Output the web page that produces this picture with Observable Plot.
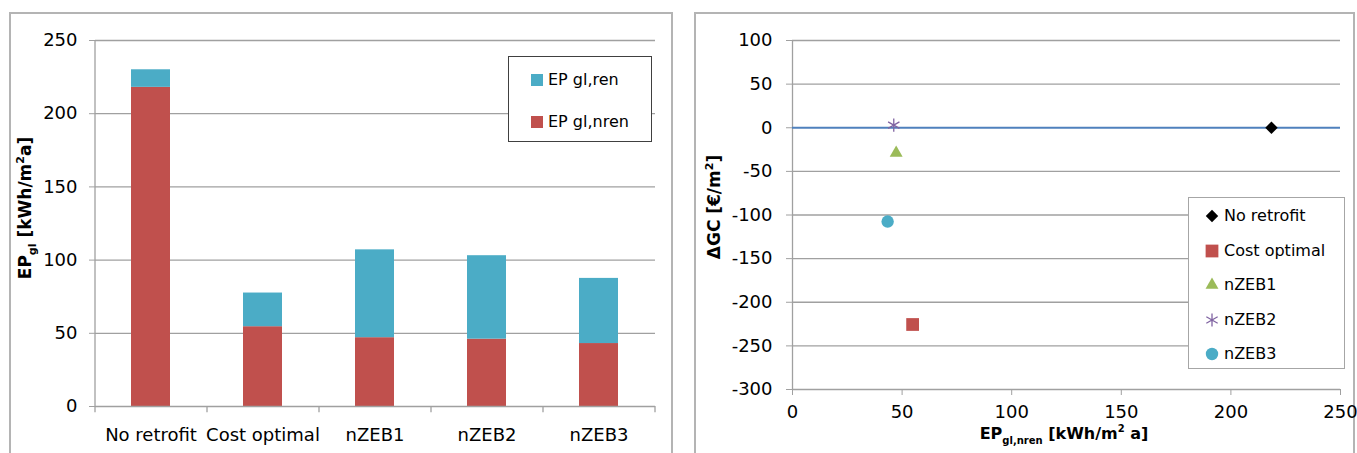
<!DOCTYPE html>
<html><head><meta charset="utf-8">
<script src="https://cdn.jsdelivr.net/npm/d3@7"></script>
<script src="https://cdn.jsdelivr.net/npm/@observablehq/plot@0.6"></script>
<style>
body{margin:0;background:#fff;}
#wrap{position:relative;width:1357px;height:453px;overflow:hidden;font-family:"DejaVu Sans",sans-serif;background:#fff;}
.panel{position:absolute;border:2px solid #b4b4b4;box-sizing:border-box;}
.abs{position:absolute;}
.legend{position:absolute;background:#fff;box-sizing:border-box;}
.row{position:absolute;left:0;right:0;height:22px;line-height:22px;font-size:16px;color:#000;white-space:nowrap;}
</style></head><body><div id="wrap"></div>
<script>
// ---------- data: left chart (stacked bars) ----------
const categories = ["No retrofit", "Cost optimal", "nZEB1", "nZEB2", "nZEB3"];
const epGlNren = [218, 54.5, 47, 46, 43];
const epGlRen = [12, 23, 60, 57, 44.5];
const barSeries = ["EP gl,ren", "EP gl,nren"];
const leftYTicks = [0, 50, 100, 150, 200, 250];

// ---------- data: right chart (scatter) ----------
const scenarios = ["No retrofit", "Cost optimal", "nZEB1", "nZEB2", "nZEB3"];
const scatterEpNren = [218.5, 54.8, 47.3, 46.2, 43.4];
const scatterDeltaGC = [0, -225.5, -29, 3, -107.5];
const rightXTicks = [0, 50, 100, 150, 200, 250];
const rightYTicks = [-300, -250, -200, -150, -100, -50, 0, 50, 100];

// ---------- styles ----------
const FONT = "DejaVu Sans, sans-serif";
const GRID = "#a0a0a0";
const barColors = ["#4bacc6", "#c0504d"];
const scenarioColors = ["#000000", "#c0504d", "#9bbb59", "#8064a2", "#4bacc6"];
const scenarioSymbols = ["diamond2", "square", "triangle", "asterisk", "circle"];
const symbolR = {"diamond2": 5.6, "square": 7.2, "triangle": 4.8, "asterisk": 6.2, "circle": 6.2};
const fmt = d => String(d);

const wrap = document.getElementById("wrap");
function add(el){ wrap.appendChild(el); return el; }
function div(cls, css){ const d = document.createElement("div"); d.className = cls; Object.assign(d.style, css); return d; }

// panels
add(div("panel", {left:"9px", top:"12px", width:"664px", height:"470px"}));
add(div("panel", {left:"694px", top:"12px", width:"661px", height:"470px"}));

// ---------- left chart ----------
const barData = [];
categories.forEach((c, i) => {
  barData.push({cat: c, series: "EP gl,nren", v: epGlNren[i]});
  barData.push({cat: c, series: "EP gl,ren", v: epGlRen[i]});
});
const step = (655 - 95) / categories.length;
const left = Plot.plot({
  width: 680, height: 453,
  marginLeft: 95, marginRight: 25, marginTop: 40, marginBottom: 47,
  style: {fontFamily: FONT, fontSize: "18px", color: "#000", background: "transparent", overflow: "visible"},
  x: {domain: categories, paddingInner: 0.65, paddingOuter: 0.325, label: null},
  y: {domain: [0, 250], label: null},
  color: {domain: barSeries, range: barColors},
  marks: [
    Plot.gridY(leftYTicks.filter(d => d > 0), {stroke: GRID, strokeOpacity: 1, strokeWidth: 1.3}),
    Plot.barY(barData, {x: "cat", y: "v", fill: "series"}),
    Plot.ruleY([0], {stroke: GRID, strokeWidth: 1.3}),
    Plot.ruleX([categories[0]], {x: d => d, dx: -step / 2, y1: -4.2, y2: 250, stroke: GRID, strokeWidth: 1.3}),
    Plot.ruleX(categories.slice(1), {x: d => d, dx: -step / 2, y1: -4.2, y2: 0, stroke: GRID, strokeWidth: 1.3}),
    Plot.ruleX([categories[categories.length - 1]], {x: d => d, dx: step / 2, y1: -4.2, y2: 0, stroke: GRID, strokeWidth: 1.3}),
    Plot.axisY({ticks: leftYTicks, tickFormat: fmt, tickSize: 6, tickPadding: 12, stroke: GRID, fontSize: 18, label: null}),
    Plot.axisX({tickSize: 0, tickPadding: 22, fontSize: 18, label: null})
  ]
});
left.classList.add("abs");
left.style.left = "0px"; left.style.top = "0px";
add(left);

// ---------- right chart ----------
const scatter = scenarios.map((s, i) => ({name: s, x: scatterEpNren[i], y: scatterDeltaGC[i]}));
const right = Plot.plot({
  width: 677, height: 453,
  marginLeft: 112, marginRight: 17, marginTop: 40, marginBottom: 64,
  style: {fontFamily: FONT, fontSize: "18px", color: "#000", background: "transparent", overflow: "visible"},
  x: {domain: [0, 250], label: null},
  y: {domain: [-300, 100], label: null},
  color: {domain: scenarios, range: scenarioColors},
  symbol: {domain: scenarios, range: scenarioSymbols},
  marks: [
    Plot.gridY(rightYTicks.filter(d => d !== 0 && d !== -300), {stroke: GRID, strokeOpacity: 1, strokeWidth: 1.3}),
    Plot.ruleY([-300], {stroke: GRID, strokeWidth: 1.3}),
    Plot.ruleX([0], {stroke: GRID, strokeWidth: 1.3}),
    Plot.ruleY([0], {stroke: "#4f81bd", strokeWidth: 2}),
    Plot.axisX({ticks: rightXTicks, tickFormat: fmt, tickSize: 6, tickPadding: 10, stroke: GRID, fontSize: 18, label: null}),
    Plot.axisY({ticks: rightYTicks, tickFormat: fmt, tickSize: 6, tickPadding: 14, stroke: GRID, fontSize: 18, label: null}),
    ...scenarios.map((s, i) => {
      const sym = scenarioSymbols[i];
      const opts = {x: "x", y: "y", symbol: "name", r: symbolR[sym]};
      if (sym === "asterisk") { opts.stroke = "name"; opts.strokeWidth = 1.3; opts.fill = "none"; }
      else { opts.fill = "name"; opts.stroke = "none"; }
      return Plot.dot(scatter.filter(d => d.name === s), opts);
    })
  ]
});
right.classList.add("abs");
right.style.left = "680px"; right.style.top = "0px";
add(right);

// ---------- legends ----------
const legL = add(div("legend", {left: "508px", top: "56px", width: "144px", height: "86px", border: "1.5px solid #404040"}));
barSeries.forEach((s, i) => {
  const row = div("row", {top: (12 + i * 42) + "px"});
  const sw = div("", {position: "absolute", left: "22px", top: "5px", width: "12px", height: "12px", background: barColors[i]});
  const tx = div("", {position: "absolute", left: "39px", top: "0px"});
  tx.textContent = s;
  row.appendChild(sw); row.appendChild(tx);
  legL.appendChild(row);
});

const legR = add(div("legend", {left: "1188px", top: "197px", width: "157px", height: "172px", border: "1.5px solid #a6a6a6"}));
scenarios.forEach((s, i) => {
  const row = div("row", {top: (7 + i * 34.5) + "px"});
  const sym = scenarioSymbols[i];
  const ns = "http://www.w3.org/2000/svg";
  const svg = document.createElementNS(ns, "svg");
  svg.setAttribute("width", 20); svg.setAttribute("height", 22);
  svg.style.position = "absolute"; svg.style.left = "13px"; svg.style.top = "0px";
  const p = document.createElementNS(ns, "path");
  const typeMap = {diamond2: d3.symbolDiamond2, square: d3.symbolSquare, triangle: d3.symbolTriangle, asterisk: d3.symbolAsterisk, circle: d3.symbolCircle};
  const r = symbolR[sym];
  p.setAttribute("d", d3.symbol(typeMap[sym], Math.PI * r * r)());
  p.setAttribute("transform", "translate(10,11)");
  if (sym === "asterisk") { p.setAttribute("fill", "none"); p.setAttribute("stroke", scenarioColors[i]); p.setAttribute("stroke-width", 1.3); }
  else p.setAttribute("fill", scenarioColors[i]);
  svg.appendChild(p);
  const tx = div("", {position: "absolute", left: "35px", top: "0px"});
  tx.textContent = s;
  row.appendChild(svg); row.appendChild(tx);
  legR.appendChild(row);
});

// ---------- axis titles ----------
const ov = d3.select(wrap).append("svg")
  .attr("width", 1357).attr("height", 453)
  .style("position", "absolute").style("left", "0px").style("top", "0px")
  .style("pointer-events", "none")
  .style("font-family", FONT).style("font-weight", "bold");

function title(x, y, rot, parts, size) {
  const t = ov.append("text")
    .attr("transform", `translate(${x},${y}) rotate(${rot})`)
    .attr("text-anchor", "middle").attr("dy", "0.35em")
    .attr("font-size", size).attr("fill", "#000");
  let shift = 0;
  parts.forEach(([txt, kind]) => {
    const target = kind === "sub" ? 5 : kind === "sup" ? -7 : 0;
    const ts = t.append("tspan").text(txt).attr("dy", target - shift);
    if (kind) ts.attr("font-size", Math.round(size * 0.65));
    shift = target;
  });
  return t;
}
title(31, 208, -90, [["EP"], ["gl", "sub"], [" [kWh/m"], ["2", "sup"], ["a]"]], 17);
title(720, 207, -90, [["ΔGC [€/m"], ["2", "sup"], ["]"]], 17);
title(1064, 439, 0, [["EP"], ["gl,nren", "sub"], [" [kWh/m"], ["2", "sup"], [" a]"]], 16);
</script></body></html>
